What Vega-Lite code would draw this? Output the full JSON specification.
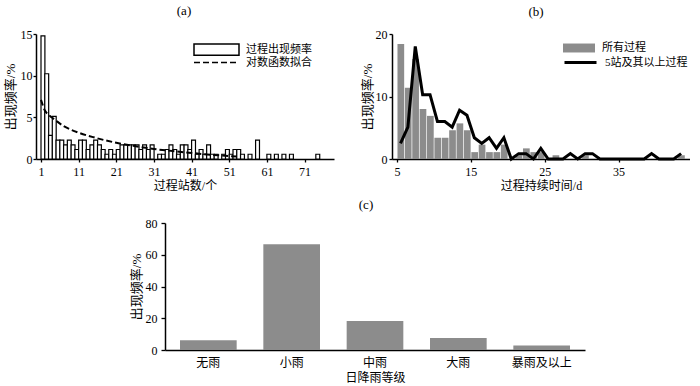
{
  "$schema": "https://vega.github.io/schema/vega-lite/v6.json",
  "padding": {"left": 4, "top": 5, "right": 0, "bottom": 0},
  "background": "white",
  "config": {
    "font": "'Liberation Serif', 'Noto Sans CJK SC'",
    "view": {"stroke": null},
    "axis": {
      "domainColor": "black", "domainWidth": 1.5, "tickColor": "black", "tickWidth": 1.3, "tickSize": 3,
      "labelColor": "black", "labelFont": "'Liberation Serif', 'Noto Sans CJK SC'", "labelFontSize": 12,
      "titleFont": "'Liberation Serif', 'Noto Sans CJK SC'", "titleFontSize": 12, "titleFontWeight": "normal",
      "titleColor": "black", "grid": false, "labelPadding": 2
    },
    "legend": {"labelFont": "'Liberation Serif', 'Noto Sans CJK SC'", "labelFontSize": 11, "labelColor": "black", "padding": 0},
    "title": {"font": "'Liberation Serif', 'Noto Sans CJK SC'", "fontSize": 13, "fontWeight": "normal", "color": "black"}
  },
  "spacing": 8,
  "vconcat": [
    {
      "hconcat": [
        {
          "width": 298, "height": 125,
          "title": {"text": "(a)", "offset": 8, "dx": -1},
          "layer": [
            {
              "data": {"values": [
                {"stations": 1, "freq": 14.77}, {"stations": 2, "freq": 10.23}, {"stations": 3, "freq": 2.84}, {"stations": 4, "freq": 5.11},
                {"stations": 5, "freq": 2.27}, {"stations": 6, "freq": 2.27}, {"stations": 7, "freq": 1.70}, {"stations": 8, "freq": 2.27},
                {"stations": 9, "freq": 1.70}, {"stations": 10, "freq": 1.14}, {"stations": 11, "freq": 2.27}, {"stations": 12, "freq": 2.27},
                {"stations": 13, "freq": 1.14}, {"stations": 14, "freq": 1.70}, {"stations": 15, "freq": 2.27}, {"stations": 16, "freq": 1.70},
                {"stations": 17, "freq": 1.14}, {"stations": 18, "freq": 0.57}, {"stations": 19, "freq": 1.14}, {"stations": 20, "freq": 0.57},
                {"stations": 21, "freq": 1.14}, {"stations": 22, "freq": 1.70}, {"stations": 23, "freq": 1.70}, {"stations": 24, "freq": 1.70},
                {"stations": 25, "freq": 1.70}, {"stations": 26, "freq": 1.70}, {"stations": 27, "freq": 1.14}, {"stations": 28, "freq": 1.70},
                {"stations": 29, "freq": 1.14}, {"stations": 30, "freq": 1.70}, {"stations": 32, "freq": 0.57}, {"stations": 33, "freq": 0.57},
                {"stations": 34, "freq": 1.14}, {"stations": 35, "freq": 1.70}, {"stations": 36, "freq": 1.14}, {"stations": 37, "freq": 0.57},
                {"stations": 38, "freq": 1.70}, {"stations": 39, "freq": 1.70}, {"stations": 40, "freq": 1.14}, {"stations": 41, "freq": 2.27},
                {"stations": 42, "freq": 0.57}, {"stations": 43, "freq": 1.14}, {"stations": 44, "freq": 0.57}, {"stations": 45, "freq": 1.70},
                {"stations": 46, "freq": 0.57}, {"stations": 47, "freq": 0.57}, {"stations": 49, "freq": 0.57}, {"stations": 50, "freq": 1.14},
                {"stations": 51, "freq": 0.57}, {"stations": 52, "freq": 1.14}, {"stations": 53, "freq": 1.14}, {"stations": 54, "freq": 0.57},
                {"stations": 56, "freq": 0.57}, {"stations": 58, "freq": 2.27}, {"stations": 61, "freq": 0.57}, {"stations": 63, "freq": 0.57},
                {"stations": 65, "freq": 0.57}, {"stations": 67, "freq": 0.57}, {"stations": 74, "freq": 0.57}
              ]},
              "mark": {"type": "bar", "width": 3.9, "xOffset": 1.95, "stroke": "black", "strokeWidth": 1.2},
              "encoding": {
                "x": {"field": "stations", "type": "quantitative", "scale": {"domain": [1, 77.5], "nice": false, "zero": false},
                      "axis": {"values": [1, 11, 21, 31, 41, 51, 61, 71], "title": "过程站数/个", "labelPadding": 4, "titlePadding": 3}},
                "y": {"field": "freq", "type": "quantitative", "scale": {"domain": [0, 15], "nice": false},
                      "axis": {"values": [0, 5, 10, 15], "title": "出现频率/%", "titleFontSize": 13, "titlePadding": 3, "labelPadding": 1}},
                "fill": {"datum": "过程出现频率", "type": "nominal", "scale": {"range": ["white"]},
                         "legend": {"title": null, "orient": "none", "legendX": 157, "legendY": -8, "symbolType": "M-1,-0.25H1V0.25H-1Z", "symbolSize": 2025, "labelOffset": 6,
                                    "encode": {"symbols": {"update": {"stroke": {"value": "black"}, "strokeWidth": {"value": 1.5}, "fill": {"value": "white"}}}}}}
              }
            },
            {
              "data": {"values": [
                {"stations": 1, "freq": 7.1}, {"stations": 2, "freq": 5.85}, {"stations": 3, "freq": 5.3}, {"stations": 4, "freq": 4.95},
                {"stations": 5, "freq": 4.6}, {"stations": 7, "freq": 3.95}, {"stations": 9, "freq": 3.5}, {"stations": 11, "freq": 3.15},
                {"stations": 15, "freq": 2.6}, {"stations": 21, "freq": 1.95}, {"stations": 26, "freq": 1.55}, {"stations": 31, "freq": 1.2},
                {"stations": 36, "freq": 0.95}, {"stations": 41, "freq": 0.72}, {"stations": 46, "freq": 0.52}, {"stations": 51, "freq": 0.36},
                {"stations": 53, "freq": 0.3}
              ]},
              "mark": {"type": "line", "color": "black", "strokeWidth": 2, "interpolate": "monotone"},
              "encoding": {
                "x": {"field": "stations", "type": "quantitative"},
                "y": {"field": "freq", "type": "quantitative"},
                "strokeDash": {"datum": "对数函数拟合", "type": "nominal", "scale": {"range": [[6, 3]]},
                               "legend": {"title": null, "orient": "none", "legendX": 157, "legendY": 5, "symbolType": "M-1,0H1", "symbolSize": 2025, "labelOffset": 6,
                                          "encode": {"symbols": {"update": {"stroke": {"value": "black"}, "strokeWidth": {"value": 2}}}}}}
              }
            }
          ]
        },
        {
          "width": 298, "height": 125,
          "title": {"text": "(b)", "offset": 9, "dx": -5},
          "layer": [
            {
              "data": {"values": [
                {"days": 5, "freq": 18.4}, {"days": 6, "freq": 11.4}, {"days": 7, "freq": 16.0}, {"days": 8, "freq": 8.0},
                {"days": 9, "freq": 6.9}, {"days": 10, "freq": 3.4}, {"days": 11, "freq": 3.4}, {"days": 12, "freq": 4.6},
                {"days": 13, "freq": 5.7}, {"days": 14, "freq": 4.6}, {"days": 15, "freq": 1.1}, {"days": 16, "freq": 2.3},
                {"days": 17, "freq": 1.1}, {"days": 18, "freq": 1.1}, {"days": 19, "freq": 2.3}, {"days": 21, "freq": 0.6},
                {"days": 22, "freq": 1.7}, {"days": 23, "freq": 1.1}, {"days": 24, "freq": 1.1}, {"days": 26, "freq": 0.6},
                {"days": 30, "freq": 0.6}, {"days": 43, "freq": 0.6}
              ]},
              "mark": {"type": "bar", "width": 6.7, "xOffset": 3.83},
              "encoding": {
                "x": {"field": "days", "type": "quantitative", "scale": {"domain": [5, 44], "nice": false, "zero": false},
                      "axis": {"values": [5, 15, 25, 35], "title": "过程持续时间/d", "labelPadding": 4, "titlePadding": 3}},
                "y": {"field": "freq", "type": "quantitative", "scale": {"domain": [0, 20], "nice": false},
                      "axis": {"values": [0, 5, 10, 15, 20], "title": "出现频率/%", "titleFontSize": 13, "titlePadding": 1, "labelPadding": 2}},
                "fill": {"datum": "所有过程", "type": "nominal", "scale": {"range": ["#8c8c8c"]},
                         "legend": {"title": null, "orient": "none", "legendX": 171, "legendY": -2, "symbolType": "M-1,-0.28H1V0.28H-1Z", "symbolSize": 1024, "labelOffset": 7,
                                    "encode": {"symbols": {"update": {"strokeWidth": {"value": 0}, "fill": {"value": "#8c8c8c"}}}}}}
              }
            },
            {
              "data": {"values": [
                {"days": 5, "freq": 2.5}, {"days": 6, "freq": 5.1}, {"days": 7, "freq": 18.0}, {"days": 8, "freq": 10.3},
                {"days": 9, "freq": 10.3}, {"days": 10, "freq": 6.0}, {"days": 11, "freq": 6.0}, {"days": 12, "freq": 5.1},
                {"days": 13, "freq": 7.8}, {"days": 14, "freq": 7.0}, {"days": 15, "freq": 3.4}, {"days": 16, "freq": 2.5},
                {"days": 17, "freq": 3.4}, {"days": 18, "freq": 1.7}, {"days": 19, "freq": 3.4}, {"days": 20, "freq": 0},
                {"days": 21, "freq": 0.86}, {"days": 22, "freq": 0.86}, {"days": 23, "freq": 0}, {"days": 24, "freq": 1.7},
                {"days": 25, "freq": 0}, {"days": 26, "freq": 0}, {"days": 27, "freq": 0}, {"days": 28, "freq": 0.86},
                {"days": 29, "freq": 0}, {"days": 30, "freq": 0.86}, {"days": 31, "freq": 0.86}, {"days": 32, "freq": 0},
                {"days": 33, "freq": 0}, {"days": 34, "freq": 0}, {"days": 35, "freq": 0}, {"days": 36, "freq": 0},
                {"days": 37, "freq": 0}, {"days": 38, "freq": 0}, {"days": 39, "freq": 0.86}, {"days": 40, "freq": 0},
                {"days": 41, "freq": 0}, {"days": 42, "freq": 0}, {"days": 43, "freq": 0.86}
              ]},
              "mark": {"type": "line", "strokeWidth": 3, "xOffset": 3.5, "strokeJoin": "miter"},
              "encoding": {
                "x": {"field": "days", "type": "quantitative"},
                "y": {"field": "freq", "type": "quantitative"},
                "stroke": {"datum": "5站及其以上过程", "type": "nominal", "scale": {"range": ["black"]},
                           "legend": {"title": null, "orient": "none", "legendX": 171, "legendY": 11, "symbolType": "M-1,0H1", "symbolSize": 1024, "labelOffset": 7,
                                      "encode": {"symbols": {"update": {"stroke": {"value": "black"}, "strokeWidth": {"value": 3}}}}}}
              }
            }
          ]
        }
      ],
      "spacing": 27,
      "resolve": {
        "scale": {"fill": "independent", "stroke": "independent", "strokeDash": "independent"},
        "legend": {"fill": "independent", "stroke": "independent", "strokeDash": "independent"}
      }
    },
    {
      "hconcat": [
        {
          "width": 94, "height": 20,
          "data": {"values": []},
          "mark": {"type": "point", "opacity": 0}
        },
        {
          "width": 420, "height": 127,
          "title": {"text": "(c)", "offset": 5, "dx": -9},
          "data": {"values": [
            {"level": "无雨", "freq": 6.1},
            {"level": "小雨", "freq": 66.6},
            {"level": "中雨", "freq": 18.3},
            {"level": "大雨", "freq": 7.6},
            {"level": "暴雨及以上", "freq": 2.9}
          ]},
          "mark": {"type": "bar", "color": "#8c8c8c"},
          "encoding": {
            "x": {"field": "level", "type": "nominal", "sort": null, "scale": {"paddingInner": 0.32, "paddingOuter": 0.18},
                  "axis": {"labelAngle": 0, "ticks": false, "title": "日降雨等级", "labelPadding": 7, "titlePadding": 4}},
            "y": {"field": "freq", "type": "quantitative", "scale": {"domain": [0, 80], "nice": false},
                  "axis": {"values": [0, 20, 40, 60, 80], "title": "出现频率/%", "titleFontSize": 13, "tickSize": 4, "labelPadding": 4, "titlePadding": 2}}
          }
        }
      ],
      "spacing": 0
    }
  ]
}
